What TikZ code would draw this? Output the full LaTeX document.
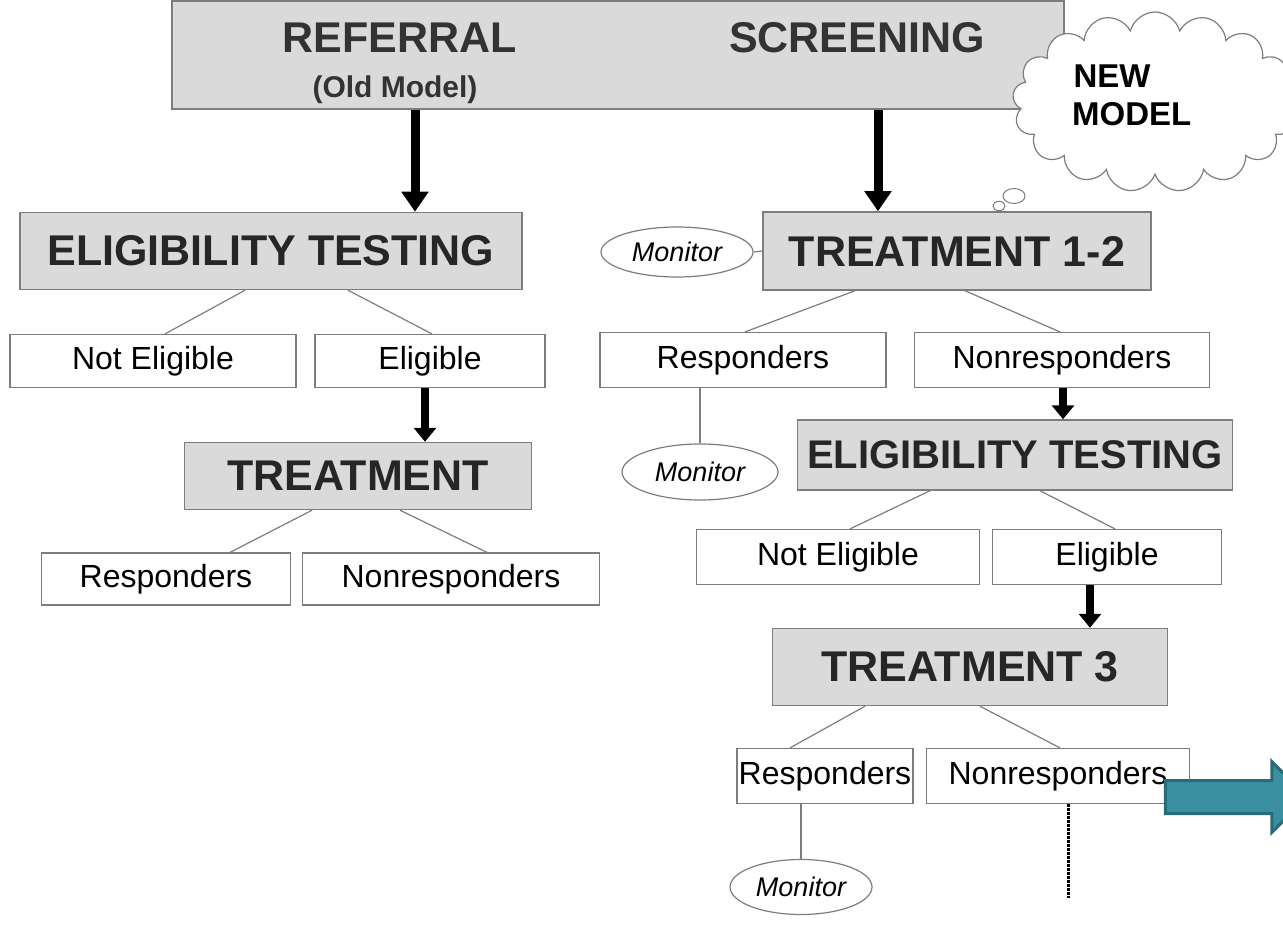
\documentclass[tikz,border=0pt]{standalone}
\usepackage{fontspec}
\setmainfont{Liberation Sans}
\usetikzlibrary{shapes, shapes.symbols, shapes.arrows, arrows.meta, shadows}
\definecolor{hdrgray}{RGB}{218,218,218}
\definecolor{boxline}{RGB}{125,125,125}
\definecolor{tealfill}{RGB}{58,143,160}
\definecolor{tealline}{RGB}{38,108,122}

\begin{document}
\begin{tikzpicture}[x=1pt,y=-1pt,
    hdr/.style={draw=boxline,fill=hdrgray,line width=1.5pt,inner sep=0pt,
      font=\fontsize{43}{46}\selectfont\bfseries,text=black!85},
    sub/.style={draw=boxline,fill=white,line width=1.2pt,inner sep=0pt,
      font=\fontsize{32}{36}\selectfont},
    mon/.style={ellipse,draw=boxline,fill=white,line width=1.2pt,inner sep=0pt,
      font=\fontsize{27}{30}\selectfont\itshape},
    bigarrow/.style={-{Triangle[width=26pt,length=20pt]},line width=9pt},
    smallarrow/.style={-{Triangle[width=22pt,length=14pt]},line width=8pt},
    branch/.style={draw=boxline,line width=1.2pt}]
  \useasboundingbox (0,0) rectangle (1283,925);

  % top bar
  \node[hdr,minimum width=892,minimum height=108] (top) at (618,55) {};
  \node[font=\fontsize{43}{46}\selectfont\bfseries,text=black!80] (ref) at (400,38) {REFERRAL};
  \node[font=\fontsize{30}{34}\selectfont\bfseries,text=black!80] (old) at (395,90) {(Old Model)};
  \node[font=\fontsize{43}{46}\selectfont\bfseries,text=black!80] (scr) at (857,38) {SCREENING};

  % thought cloud
  \node[cloud,cloud puffs=17,aspect=1.5,draw=boxline,fill=white,line width=1.2pt,
    minimum width=285,minimum height=180] (cloud) at (1155,102) {};
  \node[font=\fontsize{33}{38}\selectfont\bfseries,align=center] (newm) at (1112,95) {NEW\\\hspace*{1.2em}MODEL};
  \node[ellipse,draw=boxline,fill=white,line width=1pt,minimum width=22,minimum height=15] (b1) at (1014,196) {};
  \node[ellipse,draw=boxline,fill=white,line width=1pt,minimum width=12,minimum height=9] (b2) at (999,206) {};

  % old model
  \begin{scope}
    \node[hdr,minimum width=502,minimum height=77] (et1) at (271,251) {ELIGIBILITY TESTING};
    \node[sub,minimum width=286,minimum height=53] (ne1) at (153,361) {Not Eligible};
    \node[sub,minimum width=230,minimum height=53] (el1) at (430,361) {Eligible};
    \node[hdr,minimum width=347,minimum height=67] (tr1) at (358,476) {TREATMENT};
    \node[sub,minimum width=249,minimum height=52] (re1) at (166,579) {Responders};
    \node[sub,minimum width=297,minimum height=52] (nr1) at (451,579) {Nonresponders};
  \end{scope}

  % new model
  \begin{scope}
    \node[mon,minimum width=152,minimum height=50] (mo1) at (677,252) {Monitor};
    \node[hdr,minimum width=388,minimum height=78] (tr2) at (957,251) {TREATMENT 1-2};
    \node[sub,minimum width=286,minimum height=55] (re2) at (743,360) {Responders};
    \node[sub,minimum width=295,minimum height=55] (nr2) at (1062,360) {Nonresponders};
    \node[mon,minimum width=156,minimum height=56] (mo2) at (700,472) {Monitor};
    \node[hdr,minimum width=435,minimum height=70,font=\fontsize{40}{43}\selectfont\bfseries] (et2) at (1015,455) {ELIGIBILITY TESTING};
    \node[sub,minimum width=283,minimum height=55] (ne2) at (838,557) {Not Eligible};
    \node[sub,minimum width=229,minimum height=55] (el2) at (1107,557) {Eligible};
    \node[hdr,minimum width=395,minimum height=77] (tr3) at (970,667) {TREATMENT 3};
    \node[sub,minimum width=176,minimum height=55] (re3) at (825,776) {Responders};
    \node[sub,minimum width=263,minimum height=55] (nr3) at (1058,776) {Nonresponders};
    \node[mon,minimum width=142,minimum height=55] (mo3) at (801,887) {Monitor};
    \coordinate (dotend) at (1068,898);
  \end{scope}

  % thick arrows
  \coordinate (a1) at (415,0);
  \coordinate (a2) at (878,0);
  \coordinate (a3) at (425,0);
  \coordinate (a4) at (1063,0);
  \coordinate (a5) at (1090,0);
  \draw[bigarrow] (a1 |- top.south) -- (a1 |- et1.north);
  \draw[bigarrow] (a2 |- top.south) -- (a2 |- tr2.north);
  \draw[smallarrow] (a3 |- el1.south) -- (a3 |- tr1.north);
  \draw[smallarrow] (a4 |- nr2.south) -- (a4 |- et2.north);
  \draw[smallarrow] (a5 |- el2.south) -- (a5 |- tr3.north);

  % branches
  \begin{scope}[every path/.style={branch}]
    \path ([xshift=-26]et1.south) edge ([xshift=12]ne1.north);
    \path ([xshift=77]et1.south) edge ([xshift=2]el1.north);
    \path ([xshift=-46]tr1.south) edge ([xshift=64]re1.north);
    \path ([xshift=42]tr1.south) edge ([xshift=36]nr1.north);
    \path ([xshift=-102]tr2.south) edge ([xshift=2]re2.north);
    \path ([xshift=8]tr2.south) edge ([xshift=-2]nr2.north);
    \path ([xshift=-85]et2.south) edge ([xshift=12]ne2.north);
    \path ([xshift=25]et2.south) edge ([xshift=8]el2.north);
    \path ([xshift=-105]tr3.south) edge ([xshift=-35]re3.north);
    \path ([xshift=10]tr3.south) edge ([xshift=2]nr3.north);
    \path (mo1.east) edge (tr2.west);
    \path (mo2.north |- re2.south) edge (mo2.north);
    \path (mo3.north |- re3.south) edge (mo3.north);
  \end{scope}
  \draw[densely dotted,line width=3pt] (dotend |- nr3.south) -- (dotend);

  % teal arrow
  \node[single arrow,draw=tealline,fill=tealfill,line width=3pt,inner sep=15pt,
    single arrow head extend=19pt,single arrow tip angle=90,
    minimum height=142] (next) at (1228,797) {};
\end{tikzpicture}
\end{document}
